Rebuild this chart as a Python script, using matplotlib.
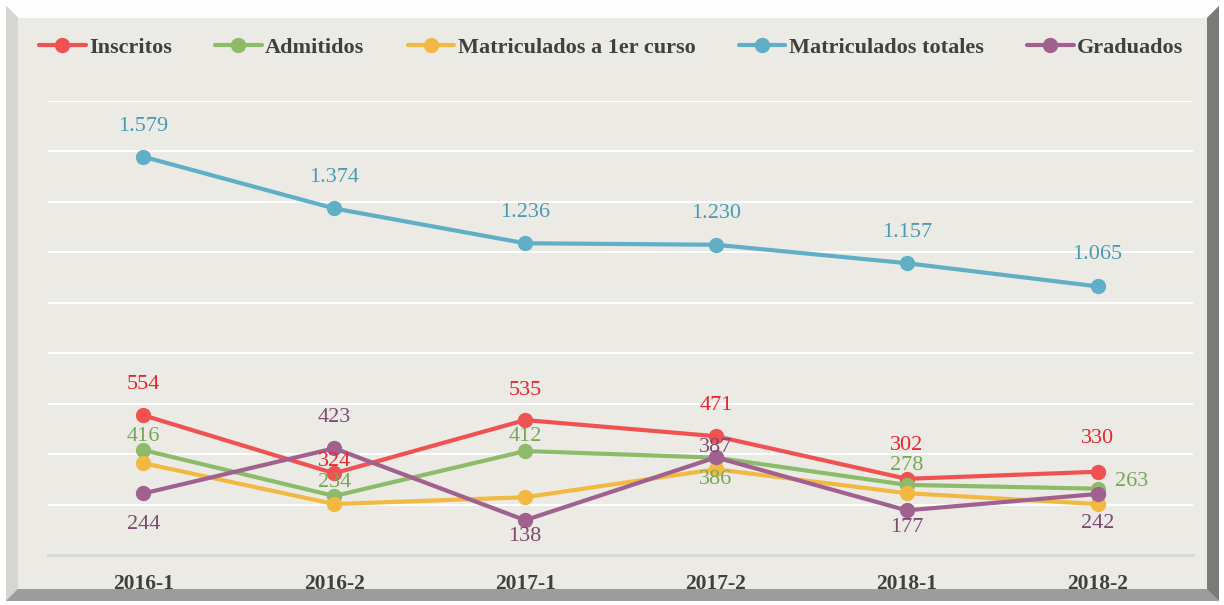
import numpy as np
import matplotlib
matplotlib.use("Agg")
import matplotlib.pyplot as plt
from matplotlib.patches import Polygon

periodos = ["2016-1", "2016-2", "2017-1", "2017-2", "2018-1", "2018-2"]

inscritos = [554, 324, 535, 471, 302, 330]
admitidos = [416, 234, 412, 386, 278, 263]
matric_1er = [364, 202, 229, 340, 245, 202]
matric_totales = [1579, 1374, 1236, 1230, 1157, 1065]
graduados = [244, 423, 138, 387, 177, 242]

nombres = ["Inscritos", "Admitidos", "Matriculados a 1er curso",
           "Matriculados totales", "Graduados"]

W, H = 1224, 605
bg = "#EBEAE5"

plt.rcParams["font.family"] = ["Liberation Serif", "DejaVu Serif"]

fig = plt.figure(figsize=(W / 100, H / 100), dpi=100)
fig.patch.set_facecolor("white")

def fpoly(pts, color):
    # points in pixel coords measured from the top-left corner
    xy = [(x / W, 1 - y / H) for x, y in pts]
    fig.patches.append(Polygon(xy, closed=True, transform=fig.transFigure,
                               facecolor=color, edgecolor="none", zorder=-5))

# bevelled frame
x0, y0, x1, y1, b = 6, 6, 1219, 601, 12
fpoly([(x0, y0), (x1, y0), (x1, y1), (x0, y1)], "#A5A5A3")
fpoly([(x0, y0), (x1, y0), (x1 - b, y0 + b), (x0 + b, y0 + b)], "#FDFDFC")
fpoly([(x0, y0), (x0 + b, y0 + b), (x0 + b, y1 - b), (x0, y1)], "#D6D5D1")
fpoly([(x1, y0), (x1, y1), (x1 - b, y1 - b), (x1 - b, y0 + b)], "#7A7A79")
fpoly([(x0, y1), (x1, y1), (x1 - b, y1 - b), (x0 + b, y1 - b)], "#9C9C9A")
fpoly([(x0 + b, y0 + b), (x1 - b, y0 + b), (x1 - b, y1 - b), (x0 + b, y1 - b)], bg)

ax = fig.add_axes([48 / W, (H - 555) / H, 1145 / W, 454 / H])
ax.set_facecolor("none")

colores = ["#F05252", "#8CBB6A", "#F2B942", "#60AFC6", "#A0618F"]
col_txt = ["#E8262B", "#76A856", "#E0A020", "#4A9BB5", "#7E4A72"]
series = [inscritos, admitidos, matric_1er, matric_totales, graduados]

x = np.arange(len(periodos))
for vals, c, n in zip(series, colores, nombres):
    ax.plot(x, vals, color=c, lw=3, marker="o", ms=10, label=n,
            solid_capstyle="round", zorder=3)

# label offsets in pixels (dx, dy), None = no label
offs = [
    [(0, 31), (0, 12), (0, 30), (0, 31), (0, 33), (0, 33)],
    [(0, 14), (0, 13), (0, 15), (0, -22), (0, 19), (34, 7)],
    None,
    [(0, 30), (0, 31), (0, 31), (0, 31), (0, 31), (0, 32)],
    [(0, -31), (0, 31), (0, -16), (0, 10), (0, -17), (0, -30)],
]
for vals, tc, of in zip(series, col_txt, offs):
    if of is None:
        continue
    for xi, v, (dx, dy) in zip(x, vals, of):
        txt = f"{v:,}".replace(",", ".")
        ax.annotate(txt, (xi, v), xytext=(dx, dy), textcoords="offset pixels",
                    ha="center", va="center", fontsize=16, color=tc, zorder=5)

ax.set_xlim(-0.5, len(periodos) - 0.5)
ax.set_ylim(0, 1800)
ax.set_yticks(np.arange(0, 1801, 200))
ax.yaxis.grid(True, color="white", lw=1.5)
ax.set_axisbelow(True)
ax.tick_params(axis="y", left=False, labelleft=False)
ax.tick_params(axis="x", length=0, pad=14)
ax.set_xticks(x)
ax.set_xticklabels(periodos, fontsize=15.5, fontweight="bold", color="#404040")
for s in ["top", "right", "left"]:
    ax.spines[s].set_visible(False)
ax.spines["bottom"].set_color("#D6D6D4")
ax.spines["bottom"].set_linewidth(2)

leg = fig.legend(loc="center", bbox_to_anchor=(611 / W, 1 - 48 / H), ncol=5,
                 frameon=False, handlelength=2.1, handletextpad=0.15,
                 columnspacing=1.95,
                 prop={"size": 16, "weight": "bold"})
for t in leg.get_texts():
    t.set_color("#404040")

fig.savefig("out.png", dpi=100, facecolor=fig.get_facecolor())
